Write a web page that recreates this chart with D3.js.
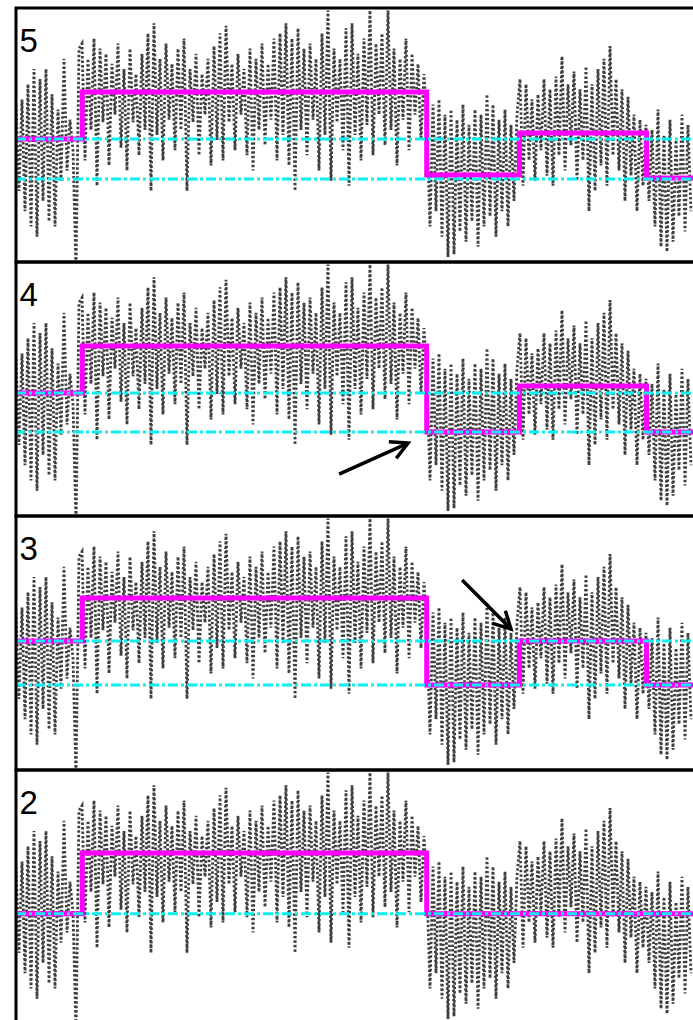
<!DOCTYPE html>
<html>
<head>
<meta charset="utf-8">
<title>Step fits on a noisy trace</title>
<script src="https://d3js.org/d3.v7.min.js"></script>
<style>
  body { margin: 0; background: #fff; }
  .signal { fill: none; stroke: #3f3f3f; stroke-width: 2.8; stroke-dasharray: 2.4, 2.1; }
  .fit { fill: none; stroke: #ff00ff; stroke-width: 5; }
  .thresh { stroke: #0cf0f0; stroke-width: 3; stroke-dasharray: 10, 3, 3, 3; }
  .frame { fill: none; stroke: #000; stroke-width: 3; }
  .label { font-family: "Liberation Sans", Arial, sans-serif; font-size: 33px; fill: #000; }
  .arrow { stroke: #000; stroke-width: 3.5; fill: none; }
</style>
</head>
<body>
<svg id="chart" width="693" height="1020"></svg>
<script>
// panel labels, top to bottom
const panelLabels = ["5", "4", "3", "2"];

// the measured trace (one sample per index), same in every panel
const signal = [
  62, 28, 64, 20, 70, 14, 76, 10, 72, 24,
  76, 16, 66, 14, 60, 32, 80, 36, 56, 44,
  -3, 84,
  86, 40, 80, 52, 88, 30, 84, 55, 82, 38,
  78, 58, 86, 45, 76, 36, 84, 55, 74, 42,
  82, 52, 90, 28, 94, 50, 80, 40, 86, 56,
  78, 44, 84, 52, 88, 28, 76, 55, 82, 42,
  74, 58, 80, 38, 85, 48, 90, 40, 93, 55,
  78, 44, 82, 58, 76, 42, 84, 36, 80, 52,
  86, 46, 78, 56, 88, 40, 90, 50, 94, 38,
  88, 28, 92, 52, 84, 42, 86, 56, 80, 36,
  90, 50, 99, 32, 84, 55, 80, 44, 92, 30,
  94, 50, 82, 40, 88, 54, 99, 42, 86, 58,
  90, 46, 99, 52, 84, 38, 80, 56, 88, 44,
  82, 58, 78, 48, 74, 54,
  14, 62, 20, 64, 10, 58, 2, 60, 3, 56,
  12, 62, 8, 54, 16, 60, 6, 58, 14, 66,
  18, 62, 10, 56, 20, 60, 14, 54, 24, 58,
  72, 30, 70, 40, 64, 32, 66, 44, 72, 34,
  68, 30, 73, 42, 81, 36, 70, 46, 75, 32,
  68, 40, 77, 20, 70, 28, 76, 38, 80, 30,
  85, 42, 72, 36, 68, 24, 65, 34, 58, 20,
  56, 30, 54,
  24, 52, 14, 60, 6, 50, 4, 56, 8, 48,
  18, 58, 12, 54, 20
];

// step positions (sample index) and fitted levels for each panel
const stepEdges = [0, 22.1, 136.9, 167.8, 210.2, 226];
const levels5 = [48.4, 66.9, 34.3, 50.8, 33.1];
const levels4 = [48.4, 66.9, 33.1, 51.2, 33.1];
const levels3 = [50.8, 67.7, 33.5, 50.8, 33.5];
const levels2 = [43.4, 67.3, 43.4, 43.4, 43.4];

// cyan reference levels
const thresh5 = [48.4, 32.7];
const thresh4 = [48.4, 33.1];
const thresh3 = [50.8, 33.5];
const thresh2 = [43.4];

// arrows: [panel, fromIndex, fromValue, toIndex, toValue]
const arrows = [
  [1, 107.7, 16.5, 130.7, 28.7],
  [2, 148.7, 74.8, 165.0, 55.5]
];

const allLevels = [levels5, levels4, levels3, levels2];
const allThresh = [thresh5, thresh4, thresh3, thresh2];

const panelTops = [8, 262, 516, 770];
const panelH = 254;
const left = 16, right = 693;

const svg = d3.select('#chart');
const defs = svg.append('defs');

defs.append('marker')
  .attr('id', 'head')
  .attr('markerUnits', 'userSpaceOnUse')
  .attr('markerWidth', 40).attr('markerHeight', 40)
  .attr('viewBox', '-20 -20 40 40')
  .attr('refX', 0).attr('refY', 0)
  .attr('orient', 'auto')
  .style('overflow', 'visible')
  .append('path')
  .attr('d', 'M-17,-9L0,0L-17,9')
  .attr('fill', 'none')
  .attr('stroke', '#000')
  .attr('stroke-width', 3.5);

const x = d3.scaleLinear().domain([0, 225]).range([left, 691]);
const y = d3.scaleLinear().domain([0, 100]).range([panelH, 0]);

const sigLine = d3.line().x((d, i) => x(i)).y(d => y(d));
const stepLine = d3.line().x(d => x(d[0])).y(d => y(d[1])).curve(d3.curveStepAfter);

panelLabels.forEach((lab, p) => {
  const g = svg.append('g').attr('transform', `translate(0,${panelTops[p]})`);

  defs.append('clipPath').attr('id', 'clip' + p)
    .append('rect')
    .attr('x', left).attr('y', 0)
    .attr('width', right - left + 10).attr('height', panelH);

  const inner = g.append('g').attr('clip-path', `url(#clip${p})`);

  inner.append('path')
    .datum(signal)
    .attr('class', 'signal')
    .attr('d', sigLine);

  const lv = allLevels[p];
  const pts = lv.map((v, i) => [stepEdges[i], v]);
  pts.push([stepEdges[stepEdges.length - 1], lv[lv.length - 1]]);
  inner.append('path')
    .datum(pts)
    .attr('class', 'fit')
    .attr('d', stepLine);

  inner.selectAll('line.thresh')
    .data(allThresh[p])
    .enter().append('line')
    .attr('class', 'thresh')
    .attr('x1', left).attr('x2', right + 5)
    .attr('y1', d => y(d)).attr('y2', d => y(d));

  arrows.filter(a => a[0] === p).forEach(a => {
    inner.append('line')
      .attr('class', 'arrow')
      .attr('x1', x(a[1])).attr('y1', y(a[2]))
      .attr('x2', x(a[3])).attr('y2', y(a[4]))
      .attr('marker-end', 'url(#head)');
  });

  g.append('rect')
    .attr('class', 'frame')
    .attr('x', left).attr('y', 0)
    .attr('width', right - left + 20).attr('height', panelH);

  g.append('text')
    .attr('class', 'label')
    .attr('x', 19.5).attr('y', 44)
    .text(lab);
});
</script>
</body>
</html>
